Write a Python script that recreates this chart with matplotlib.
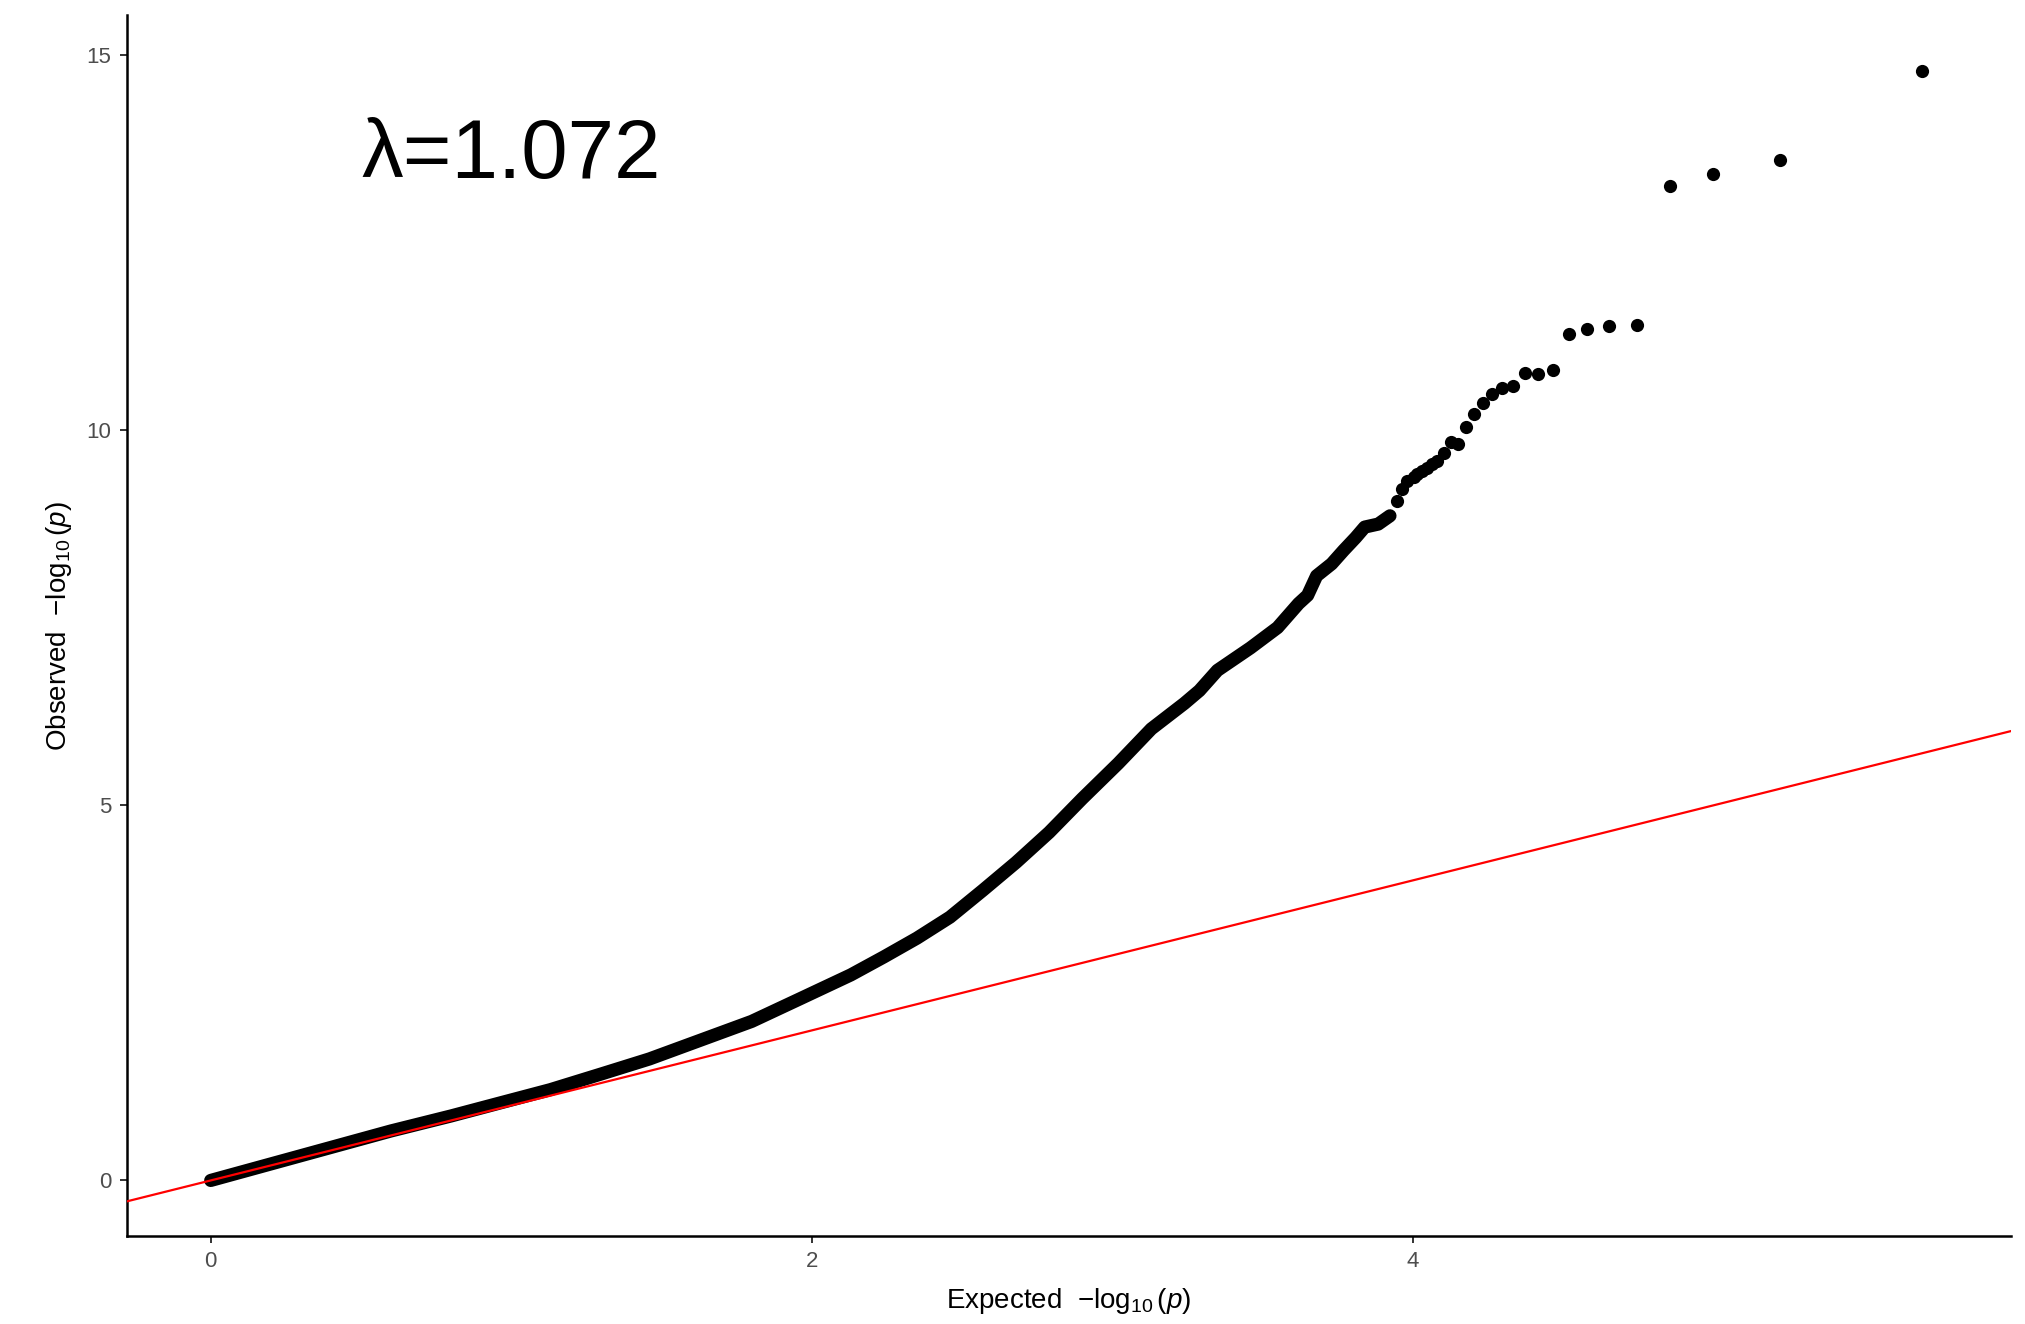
import matplotlib
matplotlib.use("Agg")
import matplotlib.pyplot as plt

plt.rcParams['font.family'] = ['Liberation Sans', 'DejaVu Sans']
plt.rcParams['mathtext.fontset'] = 'custom'
plt.rcParams['mathtext.rm'] = 'Liberation Sans'
plt.rcParams['mathtext.it'] = 'Liberation Sans:italic'

# dense part of the QQ curve (points overlap into a band)
dense_expected = [0.00, 0.30, 0.60, 0.80, 0.96, 1.13, 1.30, 1.46, 1.63, 1.80,
                  1.96, 2.13, 2.24, 2.35, 2.46, 2.57, 2.68, 2.79, 2.90, 3.02,
                  3.13, 3.24, 3.29, 3.35, 3.46, 3.55, 3.62, 3.65, 3.68, 3.73,
                  3.77, 3.81, 3.84, 3.885, 3.924]
dense_observed = [0.00, 0.33, 0.66, 0.86, 1.03, 1.21, 1.42, 1.62, 1.87, 2.12,
                  2.42, 2.74, 2.98, 3.23, 3.51, 3.87, 4.24, 4.64, 5.09, 5.56,
                  6.02, 6.36, 6.53, 6.80, 7.10, 7.37, 7.69, 7.80, 8.06, 8.22,
                  8.40, 8.57, 8.71, 8.75, 8.86]

# sparse tail, individual points
tail_expected = [3.946, 3.963, 3.98, 4.005, 4.013, 4.03, 4.046, 4.063, 4.079,
                 4.104, 4.127, 4.151, 4.176, 4.204, 4.233, 4.264, 4.297, 4.333,
                 4.373, 4.416, 4.465, 4.519, 4.581, 4.654, 4.746, 4.855, 4.999,
                 5.221, 5.695]
tail_observed = [9.06, 9.22, 9.33, 9.38, 9.42, 9.46, 9.50, 9.55, 9.59,
                 9.70, 9.84, 9.82, 10.04, 10.22, 10.37, 10.48, 10.56, 10.59,
                 10.76, 10.75, 10.81, 11.29, 11.35, 11.39, 11.40, 13.26, 13.42,
                 13.60, 14.79]

lambda_label = "\u03bb=1.072"
x_ticks = [0, 2, 4]
y_ticks = [0, 5, 10, 15]

fig = plt.figure(figsize=(20.25, 13.24), dpi=100)
ax = fig.add_axes([0.0625, 0.0665, 0.9305, 0.9218])

ax.plot(dense_expected, dense_observed, color='black', lw=9.5,
        solid_capstyle='round', solid_joinstyle='round', zorder=2)
ax.scatter(tail_expected, tail_observed, s=9.5 ** 2, color='black',
           linewidths=0, zorder=2)
ax.axline((0, 0), slope=1, color='red', lw=1.6, zorder=3)

ax.text(1.0, 13.37, lambda_label, fontsize=60, ha='center', va='baseline')

ax.set_xlim(-0.28, 5.99)
ax.set_ylim(-0.74, 15.53)
ax.set_xticks(x_ticks)
ax.set_yticks(y_ticks)

for side in ['top', 'right']:
    ax.spines[side].set_visible(False)
for side in ['left', 'bottom']:
    ax.spines[side].set_linewidth(1.8)
    ax.spines[side].set_color('black')

ax.tick_params(axis='both', length=5, width=1.4, color='#333333',
               labelcolor='#4D4D4D', labelsize=16, pad=6)

ax.set_xlabel(r'Expected  $-\log_{10}(p)$', fontsize=20, labelpad=10)
ax.set_ylabel(r'Observed  $-\log_{10}(p)$', fontsize=20, labelpad=9)

fig.savefig('out.png', dpi=100, facecolor='white')
